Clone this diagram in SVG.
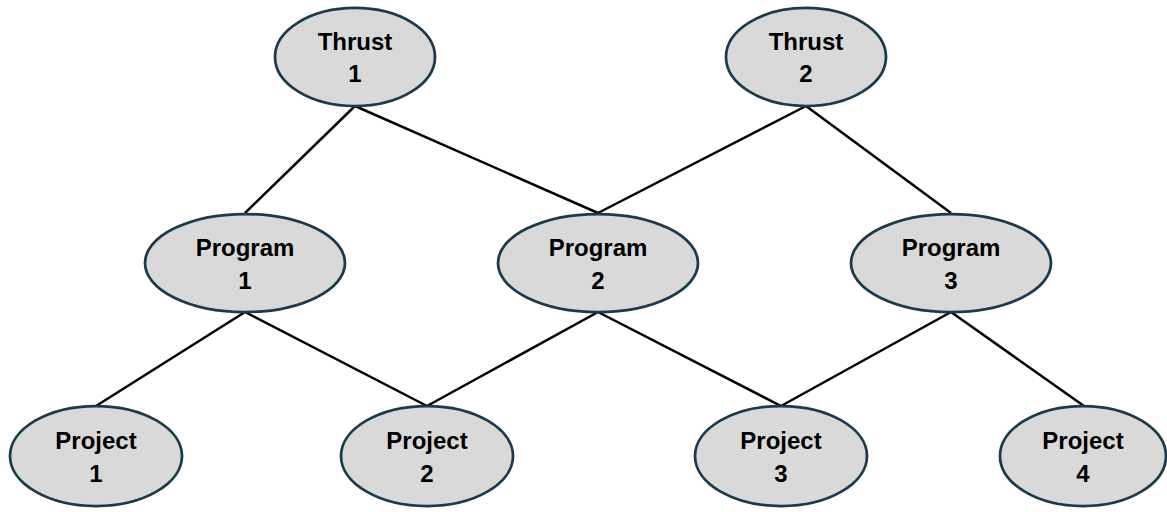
<svg xmlns="http://www.w3.org/2000/svg" width="1167" height="512" viewBox="0 0 1167 512">
<style>
.n{fill:#d9d9d9;stroke:#1b3a4b;stroke-width:2.75}
.t{font-family:"Liberation Sans",Arial,sans-serif;font-weight:bold;font-size:24px;fill:#000;text-anchor:middle}
.c{stroke:#000;stroke-width:2.5;fill:none}
</style>
<rect width="1167" height="512" fill="#fff"/>
<g id="connectors">
<line class="c" x1="355" y1="106" x2="245" y2="213"/>
<line class="c" x1="355" y1="106" x2="598" y2="213"/>
<line class="c" x1="806" y1="106" x2="598" y2="213"/>
<line class="c" x1="806" y1="106" x2="951" y2="213"/>
<line class="c" x1="245" y1="312" x2="96" y2="406"/>
<line class="c" x1="245" y1="312" x2="427" y2="406"/>
<line class="c" x1="598" y1="312" x2="427" y2="406"/>
<line class="c" x1="598" y1="312" x2="781" y2="406"/>
<line class="c" x1="951" y1="312" x2="781" y2="406"/>
<line class="c" x1="951" y1="312" x2="1084" y2="406"/>
</g>
<g id="thrust1"><ellipse class="n" cx="355" cy="57" rx="80" ry="49"/><text class="t" x="355" y="50">Thrust</text><text class="t" x="355" y="82">1</text></g>
<g id="thrust2"><ellipse class="n" cx="806" cy="57" rx="80" ry="49"/><text class="t" x="806" y="50">Thrust</text><text class="t" x="806" y="82">2</text></g>
<g id="program1"><ellipse class="n" cx="245" cy="263" rx="100" ry="49"/><text class="t" x="245" y="256">Program</text><text class="t" x="245" y="289">1</text></g>
<g id="program2"><ellipse class="n" cx="598" cy="263" rx="100" ry="49"/><text class="t" x="598" y="256">Program</text><text class="t" x="598" y="289">2</text></g>
<g id="program3"><ellipse class="n" cx="951" cy="263" rx="100" ry="49"/><text class="t" x="951" y="256">Program</text><text class="t" x="951" y="289">3</text></g>
<g id="project1"><ellipse class="n" cx="96" cy="456" rx="86" ry="50"/><text class="t" x="96" y="449">Project</text><text class="t" x="96" y="482">1</text></g>
<g id="project2"><ellipse class="n" cx="427" cy="456" rx="86" ry="50"/><text class="t" x="427" y="449">Project</text><text class="t" x="427" y="482">2</text></g>
<g id="project3"><ellipse class="n" cx="781" cy="456" rx="86" ry="50"/><text class="t" x="781" y="449">Project</text><text class="t" x="781" y="482">3</text></g>
<g id="project4"><ellipse class="n" cx="1083" cy="456" rx="83" ry="50"/><text class="t" x="1083" y="449">Project</text><text class="t" x="1083" y="482">4</text></g>
</svg>
